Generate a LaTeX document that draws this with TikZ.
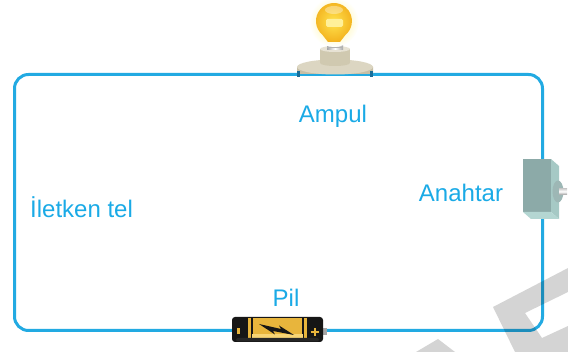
\documentclass[tikz,border=0pt]{standalone}
\usepackage{fontspec}
\setmainfont{Liberation Sans}
\begin{document}
\definecolor{wireblue}{HTML}{22AAE2}
\definecolor{labelblue}{HTML}{1AAAE6}
\definecolor{capblue}{HTML}{1A6E9A}
\definecolor{bulbout}{HTML}{F3B21E}
\definecolor{bulbin}{HTML}{FFE34E}
\definecolor{bulbhi}{HTML}{FFF09A}
\definecolor{halo}{HTML}{FFF38A}
\definecolor{basetop}{HTML}{DCD6C2}
\definecolor{baseside}{HTML}{C6BEA5}
\definecolor{socket}{HTML}{D0C9B0}
\definecolor{boxfront}{HTML}{8CAAA8}
\definecolor{boxside}{HTML}{A6C9C5}
\definecolor{boxbottom}{HTML}{B4D6D2}
\definecolor{gold}{HTML}{E8B53C}
\definecolor{goldhi}{HTML}{F8D575}
\definecolor{battblack}{HTML}{161616}
\begin{tikzpicture}[x=1pt,y=-1pt,
  wire/.style={draw=wireblue,line width=3pt},
  label/.style={text=labelblue,font=\fontsize{24}{24}\selectfont,inner sep=0pt},
  cornermark/.style={fill=black,fill opacity=0.17}]
\useasboundingbox (0,0) rectangle (568,352);

% circuit wire
\coordinate (nw) at (14.5,74.5);
\coordinate (se) at (542.5,330.5);
\draw[wire,rounded corners=14pt] (nw) rectangle (se);

% lamp base and socket
\coordinate (lamp) at (335,67);
\fill[baseside] (297,67) -- (297,74) arc[start angle=180,end angle=0,x radius=38,y radius=-8] -- (373,67) -- cycle;
\fill[baseside] (297,67) rectangle (373,74);
\fill[basetop] (lamp) ellipse[x radius=38,y radius=7.5];
\fill[capblue] (297,71.5) rectangle (300,77.5);
\fill[capblue] (370,71.5) rectangle (373,77.5);
\fill[socket] (320,49) rectangle (350,63);
\fill[socket] (335,63) ellipse[x radius=15,y radius=3];
\fill[basetop!70!white] (335,49) ellipse[x radius=15,y radius=3];
% screw
\shade[left color=gray!70,right color=gray!70,middle color=white] (327,40) rectangle (343,50);
\foreach \yy in {42.5,45,47.5} \draw[gray!60,line width=0.6pt] (327,\yy) -- (343,\yy);
% glass bulb with halo
\shade[inner color=halo,outer color=white] (334,22) circle[radius=25];
\shade[inner color=bulbin,outer color=bulbout]
  (328,42) -- (322.4,34.8) arc[start angle=130,end angle=410,radius=18] -- (340,42) -- cycle;
\fill[bulbhi,rounded corners=1.5pt] (326,19) rectangle (343,27);
\fill[white,opacity=0.35] (334,10) ellipse[x radius=9,y radius=4];

% switch
\coordinate (switch) at (537,186);
\fill[boxfront] (523,159) rectangle (551,212);
\fill[boxside] (551,159) -- (559,166) -- (559,219) -- (551,212) -- cycle;
\fill[boxbottom] (523,212) -- (551,212) -- (559,219) -- (531,219) -- cycle;
\fill[boxfront!85!white] (558,191.5) ellipse[x radius=5.5,y radius=11];
\shade[top color=gray!40,bottom color=gray!70,middle color=white] (559,188.5) rectangle (567,194.5);

% battery
\coordinate (cell) at (277,329.5);
\fill[gray!70] (322,328) rectangle (327,335);
\fill[battblack,rounded corners=3pt] (232,317) rectangle (323,342);
\fill[gold] (248,318) rectangle (307,341);
\draw[battblack,line width=1.2pt] (252,318) -- (252,341) (303,318) -- (303,341);
\fill[goldhi] (252,334) rectangle (303,338);
\fill[gray!30!black,rounded corners=2pt] (236,338) rectangle (319,341.5);
\fill[gold] (237,328.5) rectangle (240,334.5);
\draw[gold,line width=2pt] (310.5,332) -- (318.5,332) (314.5,328) -- (314.5,336);
\fill[battblack] (259,324) -- (281,329) -- (279,325.5) -- (294,335) -- (273,331) -- (275,334.5) -- cycle;

% labels
\node[label] (ampul) at (333,116) {Ampul};
\node[label] (anahtar) at (461,193) {Anahtar};
\node[label,anchor=west] (tel) at (30,207) {İletken tel};
\node[label] (pil) at (286,298) {Pil};

% corner mark
\path[cornermark,even odd rule] (493,307) -- (568,268) -- (568,352) -- (515,352) -- cycle
  (525,313) -- (568,292) -- (568,326) -- (542,338) -- cycle;
\path[cornermark] (416,352) -- (438,339) -- (455,352) -- cycle;
\end{tikzpicture}
\end{document}
